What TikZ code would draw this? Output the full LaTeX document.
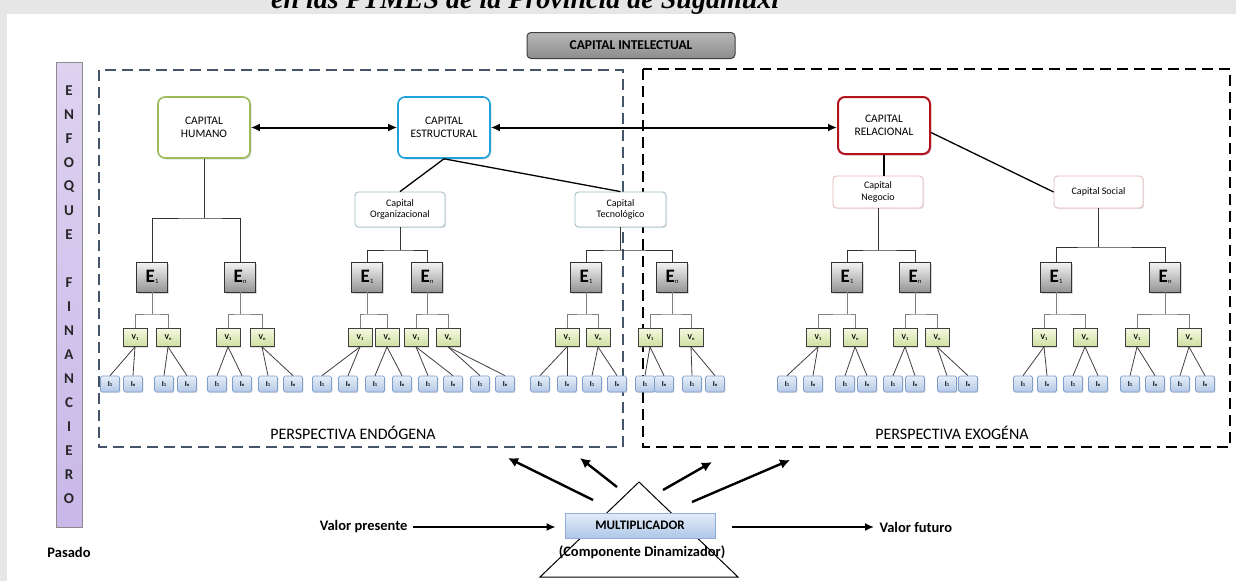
\documentclass[tikz,border=0pt]{standalone}
\usepackage{fontspec}
\setmainfont{Carlito}
\newfontfamily\ttlfont{Liberation Serif}
\usetikzlibrary{arrows.meta,shadows}
\definecolor{humC}{HTML}{9BBB59}
\definecolor{estC}{HTML}{1CA3DC}
\definecolor{relC}{HTML}{B3141C}
\definecolor{orgC}{HTML}{9DBBC6}
\definecolor{negC}{HTML}{E4B6B8}
\definecolor{endoC}{HTML}{445469}
\definecolor{vTop}{HTML}{F4F8E0}
\definecolor{vBot}{HTML}{CFE0A0}
\definecolor{iTop}{HTML}{E6EEF8}
\definecolor{iBot}{HTML}{B3C8E6}
\definecolor{iDraw}{HTML}{7E9FCB}
\definecolor{barTop}{HTML}{DDD2F0}
\definecolor{barBot}{HTML}{C9B8E8}
\definecolor{mTop}{HTML}{E3ECF7}
\definecolor{mBot}{HTML}{AFC7E8}
\definecolor{mDraw}{HTML}{8EAFDA}
\definecolor{bgC}{HTML}{E6E6E6}

\newcommand{\Elab}[1]{{\fontsize{19}{19}\selectfont\bfseries E}\kern0.3pt\raisebox{-0.5pt}{\fontsize{6.5}{6.5}\selectfont #1}}
\newcommand{\Vlab}[1]{V\raisebox{-0.3pt}{\fontsize{4.5}{4.5}\selectfont #1}}
\newcommand{\Ilab}[1]{I\raisebox{-0.3pt}{\fontsize{4.5}{4.5}\selectfont #1}}

\tikzset{
  topbox/.style={draw=#1, rounded corners=7pt, line width=1.6pt, fill=white,
    minimum width=92pt, minimum height=61pt, align=center, inner sep=1pt,
    font=\fontsize{11.5}{13.5}\selectfont,
    drop shadow={opacity=0.25, shadow xshift=1.5pt, shadow yshift=-1.5pt}},
  subbox/.style={draw=#1, rounded corners=3.5pt, line width=0.8pt, fill=white,
    align=center, inner sep=1pt, font=\fontsize{10}{11.5}\selectfont,
    drop shadow={opacity=0.2, shadow xshift=1.2pt, shadow yshift=-1.2pt}},
  ebox/.style={draw=black!80, line width=0.8pt, top color=black!4, bottom color=black!42,
    minimum width=31pt, minimum height=30pt, inner sep=0pt,
    drop shadow={opacity=0.3, shadow xshift=1.5pt, shadow yshift=-1.5pt}},
  vbox/.style={draw=black!75, line width=0.7pt, top color=vTop, bottom color=vBot,
    minimum width=24pt, minimum height=18pt, inner sep=0pt,
    font=\fontsize{7.5}{7.5}\selectfont\bfseries,
    drop shadow={opacity=0.25, shadow xshift=1pt, shadow yshift=-1pt}},
  ibox/.style={draw=iDraw, rounded corners=1.5pt, line width=0.7pt, top color=iTop, bottom color=iBot,
    minimum width=19pt, minimum height=16pt, inner sep=0pt,
    font=\fontsize{7.5}{7.5}\selectfont\bfseries,
    drop shadow={opacity=0.2, shadow xshift=1pt, shadow yshift=-1pt}},
  pline/.style={draw=black!80, line width=1pt},
  evline/.style={draw=black!50, line width=1pt},
  viline/.style={draw=black!75, line width=0.8pt},
  mainline/.style={draw=black, line width=1.3pt},
  dblarrow/.style={{Latex[length=9pt,width=8pt]}-{Latex[length=9pt,width=8pt]}, line width=2pt},
  bigarrow/.style={-{Latex[length=10pt,width=10pt]}, line width=2.4pt},
  flowarrow/.style={-{Latex[length=9pt,width=8pt]}, line width=1.6pt},
  boldtxt/.style={font=\bfseries\fontsize{14.5}{15}\selectfont},
  persp/.style={font=\fontsize{16}{17}\selectfont},
}

\newcommand{\mkgroup}[9]{%
  \node[ebox] (E#1) at (#2,277) {\Elab{#3}};
  \node[vbox] (V#1a) at (#4,337.5) {\Vlab{1}};
  \node[vbox] (V#1b) at (#5,337.5) {\Vlab{n}};
  \node[ibox] (I#1a) at (#6,384) {\Ilab{1}};
  \node[ibox] (I#1b) at (#7,384) {\Ilab{n}};
  \node[ibox] (I#1c) at (#8,384) {\Ilab{1}};
  \node[ibox] (I#1d) at (#9,384) {\Ilab{n}};
  \coordinate (J#1) at (#2,314);
  \draw[evline] (E#1.south) -- (J#1);
  \draw[evline] (V#1a.north) |- (J#1) -| (V#1b.north);
  \draw[viline] (V#1a.south) -- (I#1a.north);
  \draw[viline] (V#1a.south) -- (I#1b.north);
  \draw[viline] (V#1b.south) -- (I#1c.north);
  \draw[viline] (V#1b.south) -- (I#1d.north);
}

\begin{document}
\begin{tikzpicture}[x=1pt,y=-1pt]
\useasboundingbox (0,0) rectangle (1236,581);
\clip (0,0) rectangle (1236,581);
% background
\fill[bgC] (0,0) rectangle (1236,581);
\fill[white] (7,14) rectangle (1236,581);
\node[anchor=base west, inner sep=0pt, font=\ttlfont\bfseries\itshape\fontsize{28}{28}\selectfont] (title) at (271,8) {en las PYMES de la Provincia de Sugamuxi};

% perspective frames
\draw[endoC, line width=1.5pt, dash pattern=on 11pt off 6pt] (99,70) rectangle (623,447);
\draw[black, line width=2pt, dash pattern=on 11pt off 6pt] (643,69) rectangle (1230,447);
\node[persp] (pendo) at (353,433) {PERSPECTIVA ENDÓGENA};
\node[persp] (pexo) at (952,433) {PERSPECTIVA EXOGÉNA};

% capital intelectual
\node[draw=black!75, line width=1pt, rounded corners=4pt, top color=black!28, bottom color=black!45,
  minimum width=208pt, minimum height=26pt, inner sep=0pt,
  font=\bfseries\fontsize{13.5}{14}\selectfont] (ci) at (631,45.5) {CAPITAL INTELECTUAL};

% enfoque financiero bar
\node[draw=black!45, line width=0.8pt, top color=barTop, bottom color=barBot,
  minimum width=26pt, minimum height=465pt, inner sep=0pt] (bar) at (69,294.5) {};
\foreach \ch/\k in {E/0,N/1,F/2,O/3,Q/4,U/5,E/6,F/8,I/9,N/10,A/11,N/12,C/13,I/14,E/15,R/16,O/17}
  \node[font=\bfseries\fontsize{15}{15}\selectfont, text=black!85, inner sep=0pt] (L\k) at (69,{91+24*\k}) {\ch};
\node[boldtxt] (pasado) at (69,552) {Pasado};

% main capitals
\node[topbox=humC] (hum) at (204,127.5) {CAPITAL\\HUMANO};
\node[topbox=estC] (est) at (444,127.5) {CAPITAL\\ESTRUCTURAL};
\node[topbox=relC, line width=2pt, minimum height=57pt] (rel) at (884,125.5) {CAPITAL\\RELACIONAL};
\draw[dblarrow] (hum.east) -- (est.west);
\draw[dblarrow] (est.east) -- (est.east -| rel.west);

% sub capitals
\node[subbox=orgC, minimum width=90pt, minimum height=35pt] (org) at (400,209.5) {Capital\\Organizacional};
\node[subbox=orgC, minimum width=91pt, minimum height=35pt] (tec) at (620.5,209.5) {Capital\\Tecnológico};
\node[subbox=negC, minimum width=90pt, minimum height=32pt] (neg) at (878,192) {Capital\\Negocio};
\node[subbox=negC, minimum width=89pt, minimum height=32pt] (soc) at (1098.5,192) {Capital Social};
\draw[mainline] (est.south) -- (org.north);
\draw[mainline] (est.south) -- (tec.north);
\draw[mainline] (rel.south) -- (neg.north -| rel.south);
\draw[mainline] ([yshift=-7pt]rel.east) -- (soc.west);

% groups: id, Ex, label, V1x, Vnx, I x4
\mkgroup{1}{152}{1}{135}{168}{110}{133}{164}{187}
\mkgroup{2}{240}{n}{228}{262}{217}{242}{268}{293}
\mkgroup{3}{367}{1}{360}{387}{322}{348}{375}{402}
\mkgroup{4}{427}{n}{416}{448}{428}{453}{480}{505}
\mkgroup{5}{586}{1}{567}{598}{540}{567}{592}{617}
\mkgroup{6}{672}{n}{650}{691}{645}{664}{692}{715}
\mkgroup{7}{847}{1}{818}{855}{787}{813}{845}{867}
\mkgroup{8}{915}{n}{905}{937}{893}{915}{947}{968}
\mkgroup{9}{1056}{1}{1044}{1085}{1023}{1047}{1073}{1098}
\mkgroup{10}{1165}{n}{1137}{1189}{1130}{1155}{1180}{1205}

% parent to dimension branches
\draw[pline] (hum.south) -- (hum.south |- 0,218) coordinate (Jh);
\draw[pline] (E1.north) |- (Jh) -| (E2.north);
\draw[pline] (org.south) -- (org.south |- 0,250) coordinate (Jo);
\draw[pline] (E3.north) |- (Jo) -| (E4.north);
\draw[pline] (tec.south) -- (tec.south |- 0,250) coordinate (Jt);
\draw[pline] (E5.north) |- (Jt) -| (E6.north);
\draw[pline] (neg.south) -- (neg.south |- 0,250) coordinate (Jn);
\draw[pline] (E7.north) |- (Jn) -| (E8.north);
\draw[pline] (soc.south) -- (soc.south |- 0,247) coordinate (Js);
\draw[pline] (E9.north) |- (Js) -| (E10.north);

% multiplier
\draw[line width=1pt] (639,482) coordinate (tA) -- (540,577) coordinate (tB) -- (738,577) coordinate (tC) -- cycle;
\node[draw=mDraw, line width=0.8pt, top color=mTop, bottom color=mBot, minimum width=150pt, minimum height=25pt,
  inner sep=0pt, font=\bfseries\fontsize{13}{13}\selectfont,
  drop shadow={opacity=0.25, shadow xshift=1.2pt, shadow yshift=-1.2pt}] (mult) at (640,525.5) {MULTIPLICADOR};
\node[boldtxt] (comp) at (642,552) {(Componente Dinamizador)};
\node[boldtxt, anchor=east] (vp) at (411,527) {Valor presente};
\node[boldtxt, anchor=west] (vf) at (876,527) {Valor futuro};
\draw[flowarrow, shorten <=2pt, shorten >=9pt] (vp.east) -- (vp.east -| mult.west);
\draw[flowarrow, shorten <=17pt, shorten >=2pt] (mult.east |- vf.west) -- (vf.west);

\coordinate (s1) at (593,500); \coordinate (t1) at (508,458);
\coordinate (s2) at (617,487); \coordinate (t2) at (580,458);
\coordinate (s3) at (663,490); \coordinate (t3) at (712,462);
\coordinate (s4) at (692,502); \coordinate (t4) at (790,460);
\foreach \i in {1,2,3,4} \draw[bigarrow] (s\i) -- (t\i);
\end{tikzpicture}
\end{document}
